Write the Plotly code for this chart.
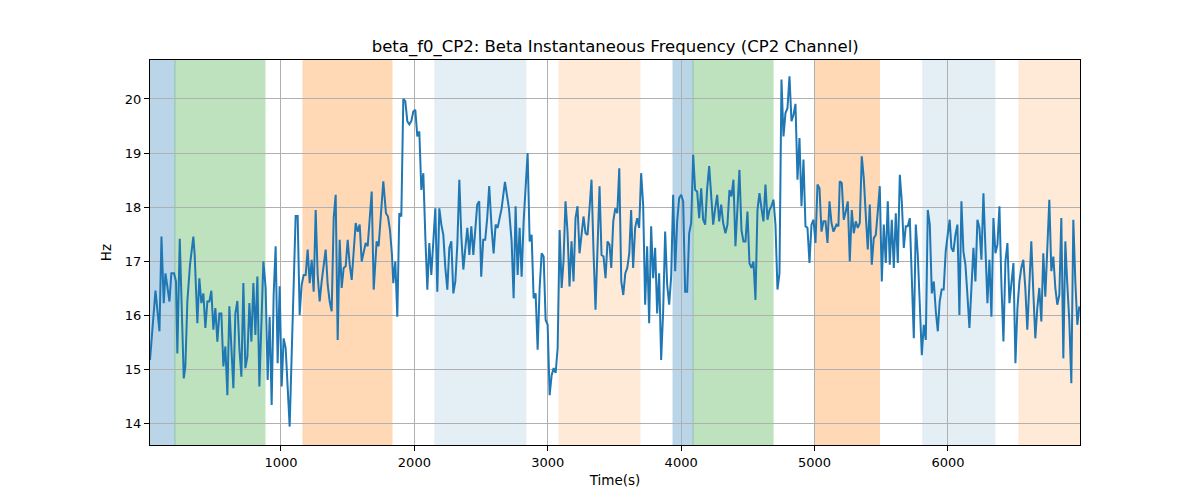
import plotly.graph_objects as go

time_s = [18, 59, 89, 104, 121, 134, 164, 178, 198, 213, 223, 241, 271, 283, 298, 318, 343, 353, 373, 388,
          403, 418, 433, 448, 463, 478, 493, 508, 523, 538, 553, 568, 583, 598, 613, 628, 643, 658, 673, 688,
          703, 718, 733, 748, 763, 778, 793, 808, 823, 838, 868,
          885, 900, 915, 930, 945, 960, 975, 990, 1005, 1020, 1035, 1050, 1065, 1080, 1095, 1110, 1125, 1140,
          1155, 1170, 1185, 1200, 1215, 1230, 1245, 1260, 1275, 1290, 1305, 1320, 1335, 1350, 1365, 1380, 1395,
          1410, 1425, 1440, 1455, 1470, 1485, 1500, 1515, 1530, 1545, 1560, 1575, 1590, 1605, 1620, 1635, 1650,
          1665, 1680, 1695,
          1717, 1732, 1747, 1767, 1787, 1802, 1817, 1832, 1842, 1857, 1872, 1887, 1902, 1917, 1932, 1947, 1962,
          1977, 1992, 2007, 2022, 2037, 2052, 2067, 2082, 2097, 2112, 2127, 2142, 2157, 2172, 2187, 2202, 2217,
          2232, 2247, 2262, 2277, 2292, 2307, 2322, 2337, 2352, 2367, 2382, 2397, 2412, 2427, 2442, 2457, 2471,
          2486, 2501, 2516, 2531, 2546, 2561,
          2579, 2594, 2609, 2624, 2639, 2654, 2679, 2694, 2709, 2729, 2744, 2759, 2774, 2789, 2804, 2819, 2834,
          2849, 2864, 2879, 2894, 2909, 2924, 2939, 2954, 2969, 2984, 2999, 3014, 3029, 3044, 3059, 3074, 3089,
          3104, 3118, 3133, 3148, 3163, 3178, 3193, 3208, 3223, 3238, 3253, 3268, 3283, 3298, 3313, 3328, 3343,
          3358, 3373, 3388, 3403, 3418, 3433, 3448, 3463,
          3476, 3491, 3506, 3521, 3536, 3551, 3566, 3581, 3596, 3611, 3625, 3640, 3655, 3670, 3685, 3700, 3715,
          3730, 3745, 3760, 3775, 3790, 3805, 3820, 3835, 3850, 3865, 3880, 3895, 3910, 3925, 3940, 3955, 3970,
          3985, 4000, 4015, 4030, 4045, 4060, 4075, 4090, 4105, 4120, 4135, 4150, 4165, 4180, 4195, 4210, 4225,
          4240, 4255, 4270, 4285, 4300, 4315,
          4332, 4347, 4362, 4377, 4392, 4407, 4422, 4437, 4452, 4467, 4482, 4497, 4512, 4527, 4542, 4557, 4572,
          4587, 4602, 4617, 4632, 4647, 4662, 4677, 4692, 4707, 4722, 4737, 4752, 4767, 4782, 4797, 4812, 4827,
          4842, 4857, 4872, 4887, 4902, 4917, 4932, 4947, 4962, 4977, 4992, 5007, 5022, 5037, 5052, 5067, 5082,
          5097, 5112, 5127, 5142,
          5164, 5179, 5189, 5204, 5219, 5234, 5249, 5264, 5279, 5294, 5309, 5324, 5339, 5354, 5369, 5384, 5399,
          5414, 5429, 5444, 5459, 5474, 5489, 5504, 5519, 5534, 5549, 5564, 5579, 5594, 5609, 5624, 5639, 5654,
          5669, 5684, 5699, 5714, 5729, 5744, 5759, 5774, 5789, 5804, 5819, 5834, 5849, 5864, 5879, 5894, 5909,
          5924, 5938, 5953, 5968, 5983, 5998, 6013,
          6026, 6041, 6056, 6071, 6086, 6101, 6116, 6131, 6146, 6161, 6176, 6191, 6206, 6221, 6236, 6251, 6266,
          6281, 6296, 6311, 6326, 6341, 6356, 6371, 6386, 6401, 6416, 6431, 6446, 6461, 6476, 6491, 6506, 6521,
          6536, 6550, 6565, 6580, 6595, 6610, 6625, 6640, 6655, 6670, 6685, 6700, 6715, 6730, 6745, 6760, 6775,
          6790, 6805, 6820, 6835, 6850, 6865, 6880, 6895, 6910, 6925, 6940, 6955, 6970, 6985]

beta_hz = [15.18, 16.46, 15.71, 17.46, 16.23, 16.78, 16.26, 16.78, 16.78, 16.63, 15.30, 17.42, 14.84, 15.06, 16.26,
           16.94, 17.46, 17.12, 15.86, 16.69, 16.23, 16.41, 15.77, 16.26, 16.26, 16.46, 15.74, 16.14, 15.52, 16.04,
           16.04, 15.06, 15.43, 14.53, 16.17, 15.40, 14.66, 16.04, 16.27, 15.40, 14.87, 16.60, 15.03, 15.24, 16.23,
           15.52, 16.60, 15.64, 16.72, 14.69, 17.00,
           16.51, 14.81, 15.98, 14.35, 16.38, 17.28, 15.12, 16.54, 14.69, 15.58, 15.40, 14.60, 13.95, 15.27, 16.51,
           17.84, 17.84, 16.01, 16.57, 16.75, 16.75, 17.22, 16.60, 17.03, 16.44, 17.95, 16.75, 16.26, 16.63, 16.88,
           17.22, 16.57, 16.26, 16.08, 17.80, 18.23, 15.55, 17.40, 16.51, 16.88, 16.91, 17.40, 16.94, 16.66, 17.18,
           17.71, 17.55, 17.68, 17.00, 17.18, 17.34, 17.28, 17.71, 18.29, 16.48,
           17.37, 17.28, 17.86, 18.48, 17.89, 17.83, 17.58, 17.12, 16.60, 17.00, 15.98, 17.89, 17.83, 20.00, 19.96,
           19.59, 19.53, 19.59, 19.77, 19.80, 19.31, 19.40, 18.32, 18.63, 17.46, 16.48, 17.34, 16.75, 17.37, 17.98,
           16.44, 17.98, 17.68, 17.49, 16.88, 16.48, 17.25, 17.37, 16.41, 16.63, 17.31, 18.51, 17.46, 16.85, 17.25,
           17.62, 17.12, 17.65, 17.12, 17.62, 18.05, 18.11, 16.72, 17.40, 17.40, 17.80, 18.39,
           17.62, 17.15, 17.68, 17.62, 17.80, 17.98, 18.47, 18.23, 17.98, 17.37, 16.32, 18.02, 16.75, 17.62, 16.72,
           17.74, 18.48, 19.00, 17.37, 17.49, 16.32, 16.41, 15.37, 16.51, 17.15, 17.09, 15.92, 15.83, 14.53, 14.90,
           15.03, 14.94, 15.40, 17.58, 16.51, 17.00, 18.11, 17.55, 16.54, 17.37, 16.63, 17.80, 18.02, 17.15, 17.49,
           17.83, 17.52, 17.49, 17.98, 18.51, 17.18, 16.11, 17.25, 18.39, 17.12, 17.09, 16.69, 17.37, 17.31,
           16.88, 17.74, 17.98, 17.89, 18.72, 16.63, 16.38, 16.78, 16.88, 17.15, 17.95, 16.88, 17.62, 17.80, 17.62,
           18.63, 18.05, 16.20, 17.28, 15.86, 17.65, 16.69, 17.25, 16.04, 16.78, 15.18, 16.08, 17.55, 16.57, 16.20,
           16.72, 18.23, 16.82, 17.74, 18.17, 18.23, 18.11, 16.44, 16.44, 17.52, 17.71, 18.97, 18.32, 18.29, 17.80,
           18.35, 17.77, 17.68, 18.35, 18.76, 18.23, 17.68, 17.98, 18.23, 17.74, 18.05, 17.71,
           17.52, 17.68, 18.32, 18.20, 18.51, 17.28, 18.11, 18.69, 17.58, 17.37, 17.37, 17.92, 16.97, 16.88, 17.00,
           16.29, 17.95, 18.26, 17.98, 17.74, 18.42, 17.77, 17.95, 18.02, 18.14, 17.68, 16.48, 16.78, 20.36, 19.31,
           19.74, 19.83, 20.42, 19.59, 19.71, 19.91, 18.51, 19.28, 18.02, 18.88, 17.65, 17.62, 16.97, 17.68, 17.77,
           17.34, 18.42, 18.35, 17.55, 17.74, 17.74, 17.34, 18.11, 17.71, 17.55,
           17.68, 17.65, 18.48, 18.45, 17.77, 17.92, 18.11, 17.00, 17.95, 17.52, 17.74, 17.62, 17.71, 18.94, 18.54,
           17.86, 17.22, 18.05, 16.94, 17.43, 17.49, 17.92, 18.39, 16.63, 17.68, 16.97, 18.11, 16.94, 17.77, 16.88,
           17.89, 16.97, 18.60, 18.11, 17.25, 17.65, 17.65, 17.80, 16.82, 15.58, 17.68, 17.12, 16.20, 15.27, 15.83,
           15.55, 17.95, 17.68, 16.41, 16.63, 16.08, 15.71, 16.26, 16.48, 16.48, 17.18, 17.49, 17.77,
           17.25, 17.18, 17.49, 17.68, 16.01, 18.11, 17.18, 16.94, 16.38, 15.77, 16.51, 17.25, 16.63, 17.77, 17.62,
           17.03, 18.26, 17.31, 16.23, 17.03, 15.98, 17.80, 17.15, 17.31, 18.02, 16.57, 15.52, 17.00, 17.34, 16.23,
           16.66, 16.97, 15.12, 16.14, 16.63, 16.88, 17.03, 16.51, 15.74, 16.72, 17.37, 16.44, 15.58, 16.14, 16.51,
           15.89, 17.15, 16.35, 17.18, 18.14, 16.82, 17.09, 16.51, 16.20, 16.38, 17.80, 15.21, 17.37, 16.57, 15.89,
           14.75, 17.77, 16.63, 15.83, 16.17]

# shaded segments: start, end, colour, opacity
span_starts = [18, 205, 1165, 2154, 3084, 3939, 4089, 5000, 5812, 6532]
span_ends = [205, 880, 1832, 2836, 3691, 4089, 4689, 5487, 6352, 6990]
span_colors = ["#1f77b4", "#2ca02c", "#ff7f0e", "#1f77b4", "#ff7f0e",
               "#1f77b4", "#2ca02c", "#ff7f0e", "#1f77b4", "#ff7f0e"]
span_alpha = [0.3, 0.3, 0.3, 0.12, 0.16, 0.3, 0.3, 0.3, 0.12, 0.16]

x_ticks = [1000, 2000, 3000, 4000, 5000, 6000]
y_ticks = [14, 15, 16, 17, 18, 19, 20]

fig = go.Figure()

for s, e, c, a in zip(span_starts, span_ends, span_colors, span_alpha):
    fig.add_vrect(x0=s, x1=e, fillcolor=c, opacity=a, layer="below",
                  line=dict(color=c, width=1))

fig.add_trace(go.Scatter(x=time_s, y=beta_hz, mode="lines",
                         line=dict(color="#1f77b4", width=2), showlegend=False))

font_family = "DejaVu Sans"
fig.update_layout(
    width=1200, height=500,
    margin=dict(l=142, r=128, t=52, b=63, autoexpand=False),
    paper_bgcolor="white", plot_bgcolor="white",
    font=dict(family=font_family, color="black", size=13),
    title=dict(text="beta_f0_CP2: Beta Instantaneous Frequency (CP2 Channel)",
               x=0.506, xanchor="center", y=0.924, yanchor="middle",
               font=dict(size=16.5, family=font_family, color="black")),
)
fig.update_xaxes(range=[18, 6990], tickvals=x_ticks, ticks="outside", ticklen=5, tickcolor="black",
                 showgrid=True, gridcolor="#b0b0b0", gridwidth=1, zeroline=False,
                 showline=True, linecolor="black", linewidth=1, mirror=True,
                 title=dict(text="Time(s)", font=dict(size=13.5), standoff=6),
                 tickfont=dict(size=13))
fig.update_yaxes(range=[13.61, 20.72], tickvals=y_ticks, ticks="outside", ticklen=5, tickcolor="black",
                 showgrid=True, gridcolor="#b0b0b0", gridwidth=1, zeroline=False,
                 showline=True, linecolor="black", linewidth=1, mirror=True,
                 title=dict(text="Hz", font=dict(size=13.5), standoff=10),
                 tickfont=dict(size=13))

fig.write_html("out.html")
